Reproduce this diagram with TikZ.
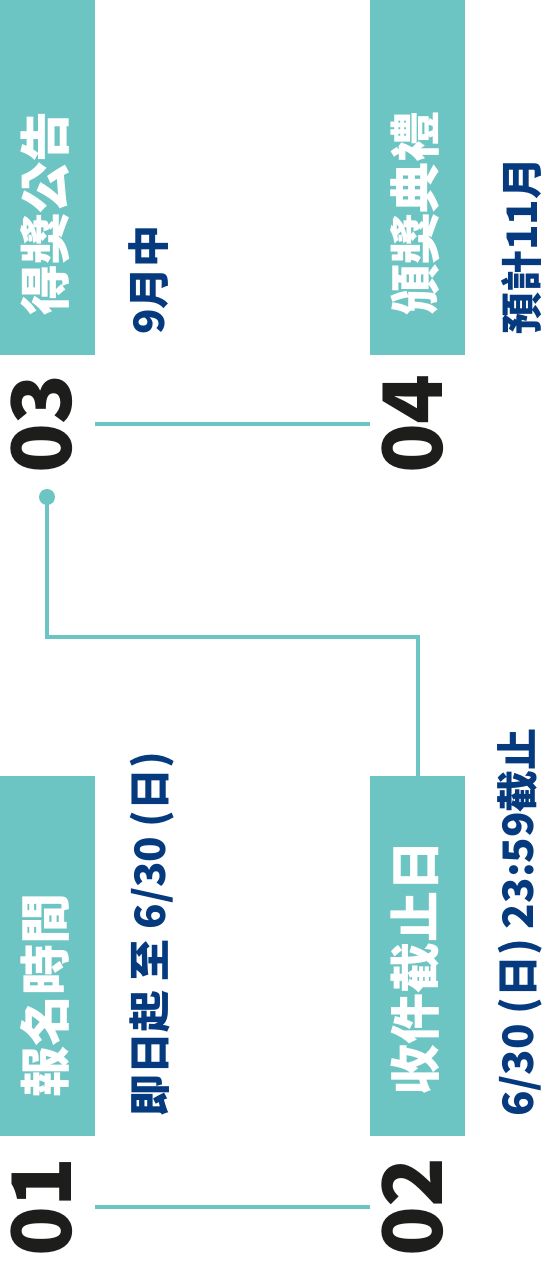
\documentclass[tikz,border=0pt]{standalone}
\usepackage{fontspec}
\setmainfont{Noto Sans CJK TC}
\usetikzlibrary{calc}
\definecolor{teal1}{RGB}{108,197,195}
\definecolor{navy1}{RGB}{5,58,126}
\definecolor{ink1}{RGB}{29,29,27}
\tikzset{
  tealbox/.style={fill=teal1, draw=none, inner sep=0pt, minimum width=95pt},
  boxtext/.style={rotate=90, anchor=west, inner sep=0pt, text=white, font=\bfseries\fontsize{51}{51}\selectfont},
  datetext/.style={rotate=90, anchor=west, inner sep=0pt, text=navy1, font=\bfseries\fontsize{42}{42}\selectfont},
  numtext/.style={rotate=90, inner sep=0pt, text=ink1, font=\bfseries\fontsize{82}{82}\selectfont},
  conn/.style={draw=teal1, line width=4pt},
}
\begin{document}
\begin{tikzpicture}[x=1pt,y=-1pt]
\useasboundingbox (0,0) rectangle (543,1268);
% boxes
\node[tealbox, minimum height=355pt] (b3) at (47.5,177.5) {};
\node[tealbox, minimum height=355pt] (b4) at (417.5,177.5) {};
\node[tealbox, minimum height=360pt] (b1) at (47.5,956) {};
\node[tealbox, minimum height=360pt] (b2) at (417.5,956) {};
% box texts
\node[boxtext] (t3) at (45,316) {得獎公告};
\node[boxtext] (t4) at (415,316) {頒獎典禮};
\node[boxtext] (t1) at (45,1098) {報名時間};
\node[boxtext] (t2) at (415,1096) {收件截止日};
% dates
\node[datetext] (d3) at (149,335) {9月中};
\node[datetext] (d4) at (521,335) {預計11月};
\node[datetext] (d1) at (152,1117) {即日起 至 6/30 (日)};
\node[datetext] (d2) at (520,1117) {6/30 (日) 23:59截止};
% numbers
\node[numtext] (n3) at (42,424) {03};
\node[numtext] (n4) at (413,424) {04};
\node[numtext] (n1) at (42,1207) {01};
\node[numtext] (n2) at (413,1207) {02};
% connectors
\draw[conn] (n3 -| b3.east) -- (n4 -| b4.west);
\draw[conn] (n1 -| b1.east) -- (n2 -| b2.west);
\node[circle, fill=teal1, inner sep=0pt, minimum size=16pt] (dot) at (47,497) {};
\coordinate (bend) at (0,637);
\draw[conn] (dot.center) -- (dot |- bend) -| (b2.north);
\end{tikzpicture}
\end{document}
